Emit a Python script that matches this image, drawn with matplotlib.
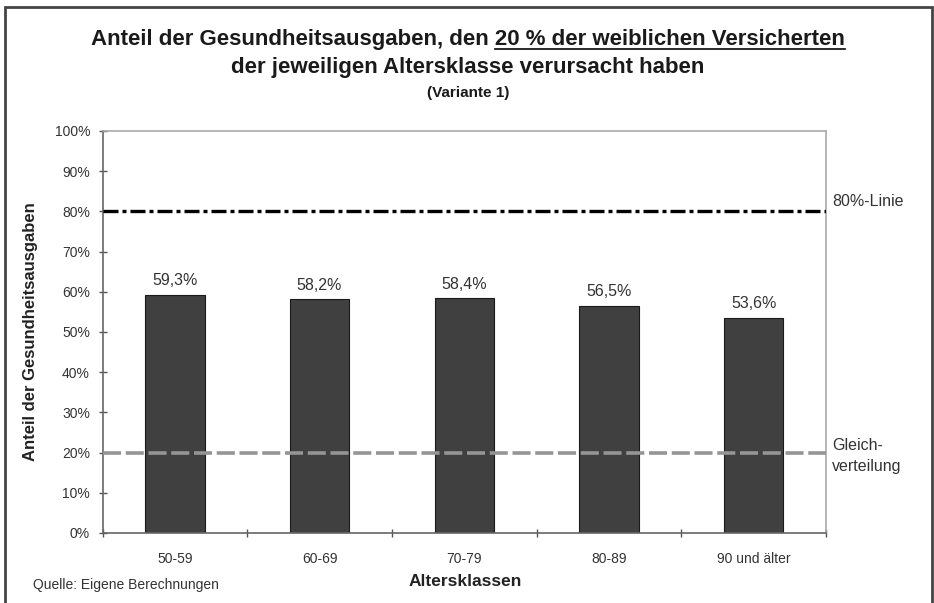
import matplotlib
matplotlib.use("Agg")
from matplotlib import pyplot as plt
from matplotlib.patches import Rectangle
from matplotlib.lines import Line2D

# data
categories = ['50-59', '60-69', '70-79', '80-89', '90 und älter']
values = [59.3, 58.2, 58.4, 56.5, 53.6]
value_labels = ['59,3%', '58,2%', '58,4%', '56,5%', '53,6%']
y_ticks = [0, 10, 20, 30, 40, 50, 60, 70, 80, 90, 100]
line_80 = 80
line_20 = 20

W, H = 934, 603
plt.rcParams['font.family'] = ['Liberation Sans', 'DejaVu Sans']

fig = plt.figure(figsize=(W / 100, H / 100), dpi=100)
ax = fig.add_axes([102.5 / W, 1 - 533 / H, (826 - 102.5) / W, (533 - 131) / H])


def px(x, y):
    return x / W, 1 - y / H


# outer frame (bottom edge runs off the picture)
fig.add_artist(Rectangle((5 / W, -0.05), 927 / W, 1.05 - 7 / H, transform=fig.transFigure,
                         fill=False, lw=2, ec='#444444', clip_on=False))

xs = range(len(categories))
ax.bar(xs, values, width=0.41, color='#404040', edgecolor='#1a1a1a', linewidth=0.8, zorder=2)
for x, v, lab in zip(xs, values, value_labels):
    ax.text(x, v + 1.6, lab, ha='center', va='bottom', fontsize=11.5, color='#333333')

ax.axhline(line_80, color='black', lw=2.4, ls=(0, (4.5, 1.2, 1.2, 1.2)), zorder=3)
ax.axhline(line_20, color='#959595', lw=2.6, ls=(0, (5, 1.3)), zorder=3)

ax.set_xlim(-0.5, len(categories) - 0.5)
ax.set_ylim(0, 100)
ax.set_yticks(y_ticks)
ax.set_yticklabels([f'{t}%' for t in y_ticks])
ax.set_xticks([i + 0.5 for i in range(-1, len(categories))], minor=False)
ax.set_xticklabels([])
ax.set_xticks(list(xs), minor=True)
ax.set_xticklabels(categories, minor=True)
ax.tick_params(axis='x', which='major', direction='inout', length=6, width=1, color='#555555')
ax.tick_params(axis='x', which='minor', length=0, pad=14, labelsize=10, labelcolor='#333333')
ax.tick_params(axis='y', direction='inout', length=6, width=1, color='#555555',
               labelsize=10, labelcolor='#333333', pad=6)
for side in ['left', 'bottom']:
    ax.spines[side].set_color('#666666')
    ax.spines[side].set_linewidth(1.2)
for side in ['top', 'right']:
    ax.spines[side].set_color('#aaaaaa')
    ax.spines[side].set_linewidth(1.2)

# titles
line1 = 'Anteil der Gesundheitsausgaben, den 20 % der weiblichen Versicherten'
under = '20 % der weiblichen Versicherten'
t1 = fig.text(*px(468, 39), line1, ha='center', va='center', fontsize=16, fontweight='bold',
              color='#1a1a1a')
fig.text(*px(468, 67), 'der jeweiligen Altersklasse verursacht haben', ha='center', va='center',
         fontsize=16, fontweight='bold', color='#1a1a1a')
fig.text(*px(468, 93), '(Variante 1)', ha='center', va='center', fontsize=11,
         fontweight='bold', color='#1a1a1a')

# underline the last part of the first title line
fig.canvas.draw()
r = fig.canvas.get_renderer()
bb = t1.get_window_extent(r)
tmp = fig.text(0, 0, under, fontsize=16, fontweight='bold')
uw = tmp.get_window_extent(r).width
tmp.remove()
uy = bb.y0 + 1
fig.add_artist(Line2D([(bb.x1 - uw) / W, bb.x1 / W], [uy / H, uy / H], transform=fig.transFigure,
                      color='#1a1a1a', lw=1.3))

ax.set_ylabel('Anteil der Gesundheitsausgaben', fontsize=12, fontweight='bold', color='#222222')
ax.yaxis.set_label_coords(-(102.5 - 38) / (826 - 102.5), 0.5)
fig.text(*px(465, 581), 'Altersklassen', ha='center', va='center', fontsize=12.5, fontweight='bold',
         color='#222222')
fig.text(*px(33, 585), 'Quelle: Eigene Berechnungen', ha='left', va='center', fontsize=10,
         color='#333333')

fig.text(*px(832, 202), '80%-Linie', ha='left', va='center', fontsize=11.5, color='#333333')
fig.text(*px(832, 445), 'Gleich-', ha='left', va='center', fontsize=11.5, color='#333333')
fig.text(*px(832, 467), 'verteilung', ha='left', va='center', fontsize=11.5, color='#333333')

fig.savefig('out.png', dpi=100)
